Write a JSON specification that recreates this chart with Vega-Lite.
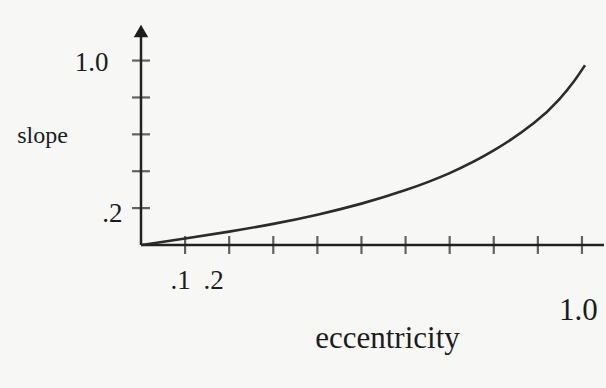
{
  "$schema": "https://vega.github.io/schema/vega-lite/v6.json",
  "autosize": "none",
  "width": 463,
  "height": 225,
  "padding": {"left": 141, "top": 20, "right": 2, "bottom": 143},
  "background": "#f7f7f5",
  "config": {
    "view": {"stroke": null},
    "font": "Liberation Serif",
    "axis": {"grid": false, "domain": false, "ticks": false, "labelFont": "Liberation Serif", "titleFont": "Liberation Serif", "labelColor": "#1c1c1c", "titleColor": "#1c1c1c", "titleFontWeight": "normal"}
  },
  "datasets": {
    "curve": [
      {"eccentricity": 0.0, "slope": 0.0},
      {"eccentricity": 0.1, "slope": 0.035},
      {"eccentricity": 0.2, "slope": 0.072},
      {"eccentricity": 0.3, "slope": 0.113},
      {"eccentricity": 0.4, "slope": 0.163},
      {"eccentricity": 0.5, "slope": 0.222},
      {"eccentricity": 0.6, "slope": 0.295},
      {"eccentricity": 0.7, "slope": 0.385},
      {"eccentricity": 0.8, "slope": 0.505},
      {"eccentricity": 0.9, "slope": 0.67},
      {"eccentricity": 0.95, "slope": 0.79},
      {"eccentricity": 0.985, "slope": 0.895},
      {"eccentricity": 1.007, "slope": 0.975}
    ],
    "xTicks": [
      {"eccentricity": 0.1}, {"eccentricity": 0.2}, {"eccentricity": 0.3}, {"eccentricity": 0.4}, {"eccentricity": 0.5},
      {"eccentricity": 0.6}, {"eccentricity": 0.7}, {"eccentricity": 0.8}, {"eccentricity": 0.9}, {"eccentricity": 1.0}
    ],
    "yTicks": [
      {"slope": 0.2}, {"slope": 0.4}, {"slope": 0.6}, {"slope": 0.8}, {"slope": 1.0}
    ],
    "axisLines": [
      {"axis": "x", "eccentricity": 0, "slope": 0},
      {"axis": "x", "eccentricity": 1.05, "slope": 0},
      {"axis": "y", "eccentricity": 0, "slope": 0},
      {"axis": "y", "eccentricity": 0, "slope": 1.17}
    ],
    "arrow": [{"eccentricity": 0, "slope": 1.16}]
  },
  "layer": [
    {
      "data": {"name": "axisLines"},
      "mark": {"type": "line", "color": "#222222", "strokeWidth": 2.5},
      "encoding": {
        "x": {"field": "eccentricity", "type": "quantitative", "scale": {"domain": [0, 1.05], "nice": false},
          "axis": {"values": [0.1, 0.2, 1.0], "title": "eccentricity", "titleFontSize": 31, "titleX": 246, "titleY": 93, "titleAnchor": "middle", "titleBaseline": "middle",
            "labelExpr": "replace(format(datum.value, '.1f'), /^0/, '')",
            "labelFontSize": {"condition": {"test": "datum.value >= 1", "value": 31}, "value": 27},
            "labelOffset": {"condition": [{"test": "datum.value < 0.15", "value": -5}, {"test": "datum.value < 0.25", "value": -16}], "value": -4},
            "labelPadding": {"condition": {"test": "datum.value >= 1", "value": 50}, "value": 22}}},
        "y": {"field": "slope", "type": "quantitative", "scale": {"domain": [0, 1.22], "nice": false},
          "axis": {"values": [0.2, 1.0], "title": "slope", "titleAngle": 0, "titleFontSize": 24, "titleX": -99, "titleY": 115, "titleAlign": "center", "titleBaseline": "middle",
            "labelExpr": "replace(format(datum.value, '.1f'), /^0/, '')",
            "labelFontSize": 27,
            "labelPadding": {"condition": {"test": "datum.value >= 1", "value": 33}, "value": 19},
            "labelOffset": {"condition": {"test": "datum.value >= 1", "value": 2}, "value": 5}}},
        "detail": {"field": "axis"}
      }
    },
    {
      "data": {"name": "arrow"},
      "mark": {"type": "point", "shape": "triangle-up", "filled": true, "color": "#1c1c1c", "size": 210, "opacity": 1},
      "encoding": {
        "x": {"field": "eccentricity", "type": "quantitative"},
        "y": {"field": "slope", "type": "quantitative"}
      }
    },
    {
      "data": {"name": "xTicks"},
      "mark": {"type": "tick", "orient": "vertical", "color": "#222222", "size": 18, "thickness": 2.2},
      "encoding": {
        "x": {"field": "eccentricity", "type": "quantitative"},
        "y": {"datum": 0, "type": "quantitative"}
      }
    },
    {
      "data": {"name": "yTicks"},
      "mark": {"type": "tick", "orient": "horizontal", "color": "#222222", "size": 18, "thickness": 2.2},
      "encoding": {
        "x": {"datum": 0, "type": "quantitative"},
        "y": {"field": "slope", "type": "quantitative"}
      }
    },
    {
      "data": {"name": "curve"},
      "mark": {"type": "line", "interpolate": "basis", "color": "#2b2b2b", "strokeWidth": 2.6},
      "encoding": {
        "x": {"field": "eccentricity", "type": "quantitative"},
        "y": {"field": "slope", "type": "quantitative"}
      }
    }
  ]
}
